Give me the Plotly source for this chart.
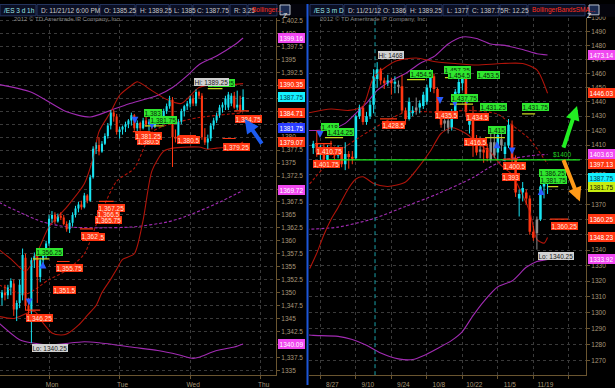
import math
import plotly.graph_objects as go

W, H = 615, 388
FONT = "Liberation Sans, Arial, sans-serif"

# ---------------- header texts ----------------
L_HEADER = ["/ES 3 d 1h", "D: 11/21/12 6:00 PM", "O: 1385.25", "H: 1389.25", "L: 1385",
            "C: 1387.75", "R: 3.25", "Bollinger..."]
R_HEADER = ["/ES 3 m D", "D: 11/21/12", "O: 1386", "H: 1389.25", "L: 1377",
            "C: 1387.75", "R: 12.25", "BollingerBandsSMA..."]
COPYRIGHT = "2012 \u00a9 TD Ameritrade IP Company, Inc."

# ---------------- LEFT PANEL: /ES 3 d 1h (hourly bars, bar index) ----------------
L_OPEN = [1349.0, 1350.0, 1349.5, 1351.0, 1351.75, 1346.75, 1348.0, 1349.5, 1356.75, 1347.5,
          1346.5, 1356.25, 1357.0, 1353.0, 1356.25, 1357.5, 1359.5, 1364.25, 1365.0, 1363.75,
          1364.75, 1364.5, 1363.25, 1362.25, 1363.5, 1365.0, 1366.25, 1367.0, 1366.5, 1368.75,
          1367.75, 1372.25, 1377.75, 1378.5, 1377.25, 1378.75, 1380.25, 1382.25, 1384.75, 1384.0,
          1381.0, 1381.5, 1382.0, 1382.5, 1383.25, 1384.25, 1381.75, 1382.75, 1381.75, 1383.25,
          1382.5, 1383.0, 1382.0, 1383.5, 1384.5, 1383.5, 1385.0, 1386.0, 1387.25, 1380.0,
          1379.75, 1383.0, 1385.0, 1386.0, 1386.5, 1387.5, 1386.5, 1388.75, 1388.0, 1380.0,
          1379.0, 1379.75, 1382.25, 1383.25, 1384.25, 1385.75, 1386.25, 1385.75, 1386.5, 1388.0,
          1385.75, 1386.25, 1385.25]
L_HIGH = [1350.5, 1351.5, 1351.5, 1352.75, 1352.5, 1348.5, 1352.5, 1358.5, 1357.5, 1349.0,
          1356.75, 1357.75, 1357.5, 1356.75, 1358.0, 1360.0, 1365.0, 1365.75, 1365.5, 1365.25,
          1365.5, 1365.0, 1363.75, 1364.0, 1365.5, 1366.75, 1367.5, 1367.75, 1369.25, 1369.0,
          1372.75, 1378.25, 1379.0, 1380.0, 1379.25, 1380.75, 1382.75, 1385.25, 1385.25, 1384.5,
          1382.0, 1382.25, 1383.0, 1383.5, 1384.75, 1384.5, 1383.25, 1383.0, 1383.75, 1384.0,
          1383.5, 1383.5, 1383.75, 1385.0, 1385.25, 1385.5, 1386.5, 1388.0, 1387.75, 1381.5,
          1383.5, 1385.5, 1386.25, 1387.0, 1388.0, 1388.25, 1389.25, 1389.0, 1388.5, 1381.75,
          1380.5, 1382.75, 1383.75, 1384.75, 1386.25, 1386.75, 1388.0, 1388.75, 1388.5, 1388.75,
          1389.0, 1388.0, 1389.25]
L_LOW = [1347.5, 1348.5, 1348.75, 1349.5, 1345.5, 1344.5, 1347.0, 1348.5, 1346.5, 1345.5,
         1340.25, 1354.75, 1348.0, 1352.0, 1355.5, 1356.5, 1359.0, 1363.5, 1363.25, 1363.5,
         1364.0, 1363.0, 1361.75, 1361.5, 1362.75, 1364.5, 1365.5, 1366.0, 1366.25, 1367.25,
         1367.5, 1372.0, 1376.75, 1376.5, 1377.0, 1378.5, 1379.75, 1381.5, 1383.0, 1380.5,
         1379.75, 1380.5, 1381.0, 1381.75, 1382.25, 1381.25, 1381.0, 1381.25, 1381.5, 1382.0,
         1381.25, 1381.5, 1381.75, 1382.75, 1383.0, 1383.25, 1384.5, 1385.5, 1374.25, 1379.0,
         1379.25, 1382.5, 1384.0, 1385.25, 1385.75, 1386.0, 1386.0, 1387.5, 1379.5, 1378.5,
         1377.75, 1379.25, 1381.5, 1382.75, 1383.75, 1384.75, 1385.25, 1385.25, 1386.0, 1385.5,
         1385.25, 1384.75, 1385.0]
L_CLOSE = [1350.0, 1349.5, 1351.0, 1352.25, 1346.75, 1348.0, 1351.5, 1357.25, 1347.5, 1346.5,
           1356.25, 1357.0, 1353.0, 1356.25, 1357.5, 1359.5, 1364.25, 1365.0, 1363.75, 1364.75,
           1364.5, 1363.25, 1362.25, 1363.5, 1365.0, 1366.25, 1367.0, 1366.5, 1368.75, 1367.75,
           1372.25, 1377.75, 1378.5, 1377.25, 1378.75, 1380.25, 1382.25, 1384.75, 1384.0, 1381.0,
           1381.5, 1382.0, 1382.5, 1383.25, 1384.25, 1381.75, 1382.75, 1381.75, 1383.25, 1382.5,
           1383.0, 1382.0, 1383.5, 1384.5, 1383.5, 1385.0, 1386.0, 1387.25, 1380.0, 1379.75,
           1383.0, 1385.0, 1386.0, 1386.5, 1387.5, 1386.5, 1388.75, 1388.0, 1380.0, 1379.0,
           1379.75, 1382.25, 1383.25, 1384.25, 1385.75, 1386.25, 1387.5, 1388.25, 1388.0, 1385.75,
           1386.25, 1385.25, 1387.75]
L_GRAY = []

L_XTICK_POS = [16, 40, 64, 88]
L_XTICK_TEXT = ["Mon", "Tue", "Wed", "Thu"]
L_YTICKS = [1335, 1337.5, 1340, 1342.5, 1345, 1347.5, 1350, 1352.5, 1355, 1357.5, 1360, 1362.5,
            1365, 1367.5, 1370, 1372.5, 1375, 1377.5, 1380, 1382.5, 1385, 1387.5, 1390, 1392.5,
            1395, 1397.5, 1400, 1402.5]

# Bollinger bands (bar index, price)
L_PUR_UP_X = [-1, 10, 22, 30, 37, 43, 53, 58, 63, 67, 73, 79, 82]
L_PUR_UP_Y = [1390.2, 1388.7, 1384.9, 1383.9, 1385.2, 1386.4, 1388.1, 1389.6, 1391.9, 1394.0,
              1395.7, 1397.8, 1399.16]
L_PUR_MID_X = [-1, 6, 14, 22, 33, 45, 56, 62, 73, 82]
L_PUR_MID_Y = [1367.4, 1365.5, 1363.6, 1362.7, 1362.5, 1362.7, 1363.6, 1364.6, 1367.2, 1369.72]
L_PUR_LO_X = [-1, 6, 10, 16, 28, 33, 45, 53, 60, 65, 67, 73, 79, 82]
L_PUR_LO_Y = [1344.1, 1340.9, 1340.3, 1339.9, 1340.5, 1340.3, 1339.4, 1338.8, 1338.0, 1337.3,
              1337.5, 1338.8, 1339.5, 1340.09]
L_RED_UP_X = [-1, 3, 8, 12, 16, 22, 28, 31, 33, 37, 40, 44, 46, 51, 56, 61, 67, 73, 79, 82]
L_RED_UP_Y = [1358.3, 1356.5, 1354.1, 1357.8, 1362.7, 1366.5, 1371.0, 1376.0, 1381.1, 1384.9,
              1388.1, 1390.0, 1390.7, 1389.0, 1387.3, 1386.5, 1389.6, 1390.2, 1390.2, 1390.35]
L_RED_MID_X = [-1, 8, 16, 22, 28, 33, 39, 45, 51, 57, 67, 82]
L_RED_MID_Y = [1351.5, 1349.7, 1352.5, 1354.3, 1357.5, 1364.5, 1371.5, 1374.0, 1381.0, 1382.5,
               1383.8, 1384.71]
L_RED_LO_X = [-1, 4, 11, 14, 17, 20, 22, 26, 29, 32, 34, 37, 39, 41, 45, 48, 51, 55, 58, 67,
              70, 73, 79, 82]
L_RED_LO_Y = [1345.4, 1345.0, 1346.4, 1344.1, 1342.2, 1341.8, 1342.0, 1343.7, 1345.6, 1347.5,
              1350.0, 1352.6, 1354.5, 1356.4, 1357.5, 1364.0, 1373.5, 1377.3, 1377.9, 1378.1,
              1377.7, 1377.9, 1378.2, 1379.07]

L_TAGS = [(1399.16, "mag"), (1390.35, "red"), (1387.75, "cyan"), (1384.71, "red"),
          (1381.75, "blue"), (1379.07, "red"), (1369.72, "mag"), (1340.09, "mag")]

L_BUBBLES = [
    ("1,389.25", 74.5, 1390.5, "green"),
    ("Hi: 1389.25", 71.4, 1390.65, "gray"),
    ("1,383", 51.4, 1384.6, "green"),
    ("1,381.75", 54.8, 1383.35, "green"),
    ("1,384.75", 84.0, 1383.6, "red"),
    ("1,380.5", 49.7, 1379.2, "red"),
    ("1,381.25", 49.7, 1380.2, "red"),
    ("1,380.5", 63.6, 1379.46, "red"),
    ("1,379.25", 79.9, 1378.2, "red"),
    ("1,365.75", 36.2, 1364.0, "red"),
    ("1,366.5", 36.2, 1365.15, "red"),
    ("1,367.25", 37.4, 1366.3, "red"),
    ("1,362.5", 31.0, 1360.7, "red"),
    ("1,362", 29.9, 1360.9, "red"),
    ("1,356.25", 16.0, 1357.85, "green"),
    ("1,355.75", 23.1, 1354.8, "red"),
    ("1,351.5", 21.4, 1350.45, "red"),
    ("1,346.25", 12.9, 1345.1, "red"),
    ("Lo: 1340.25", 16.3, 1339.27, "gray"),
]
L_LEVELS = [
    (1346.6, 8.2, 13.0, "red"), (1356.0, 18.7, 23.0, "red"), (1367.6, 33.0, 38.0, "red"),
    (1362.3, 26.5, 31.0, "red"), (1381.1, 44.5, 50.5, "red"), (1380.3, 60.0, 66.0, "red"),
    (1379.75, 75.0, 79.5, "red"), (1385.1, 79.0, 84.0, "red"),
    (1389.4, 70.0, 75.0, "lime"), (1382.2, 48.5, 55.0, "lime"), (1356.5, 10.5, 16.0, "lime"),
]
L_SIGNALS = [(9.2, 1347.5, "down"), (13.9, 1356.0, "up"), (45.2, 1382.6, "down"),
             (51.0, 1381.6, "down")]
L_ARROW = (82.6, 1383.5)   # head of the big blue arrow

# ---------------- RIGHT PANEL: /ES 3 m D (daily bars, trading-day index) ----------------
R_X0 = -5
R_OPEN = [1408, 1411, 1405, 1409, 1400, 1408, 1406, 1403, 1407, 1397,
          1404, 1402, 1401, 1430, 1436, 1426, 1430, 1438, 1456, 1463,
          1455, 1453, 1455, 1453, 1452, 1451, 1434, 1428, 1432, 1434,
          1436, 1437, 1440, 1450, 1458, 1449, 1431, 1425, 1427, 1422,
          1433, 1446, 1453, 1458, 1424, 1428, 1412, 1406, 1407, 1408,
          1400, 1412, 1405, 1410, 1404, 1410, 1424, 1401, 1374, 1378,
          1378, 1374, 1352, 1351, 1360, 1382, 1386]
R_HIGH = [1413, 1420, 1410, 1411, 1410, 1413, 1409, 1410, 1408, 1412,
          1406, 1406, 1431, 1438, 1437, 1433, 1441, 1463, 1468, 1464,
          1457, 1459, 1457, 1458, 1455, 1459, 1436, 1443, 1437, 1443,
          1441, 1447, 1452, 1463, 1460, 1450, 1434, 1432, 1431, 1435,
          1449, 1456, 1463, 1460, 1431, 1437, 1417, 1416, 1412, 1411,
          1420, 1418, 1420, 1418, 1412, 1428, 1427, 1403, 1380, 1385,
          1380, 1376, 1356, 1362, 1383, 1385, 1389.25]
R_LOW = [1404, 1402, 1397, 1398, 1396, 1403, 1400, 1401, 1395, 1393,
         1394, 1397, 1400, 1428, 1424, 1424, 1428, 1432, 1450, 1452,
         1449, 1451, 1445, 1446, 1446, 1432, 1424, 1427, 1430, 1431,
         1432, 1435, 1438, 1447, 1446, 1428, 1422, 1420, 1418, 1420,
         1431, 1443, 1448, 1430, 1418, 1402, 1403, 1401, 1398, 1399,
         1398, 1401, 1400, 1406, 1399, 1408, 1398, 1375, 1362, 1372,
         1370, 1350, 1346, 1340.25, 1359, 1374, 1377]
R_CLOSE = [1411, 1405, 1409, 1400, 1408, 1406, 1403, 1407, 1397, 1404,
           1402, 1401, 1430, 1436, 1426, 1430, 1438, 1458, 1463, 1455,
           1453, 1455, 1453, 1454, 1451, 1434, 1428, 1440, 1434, 1436,
           1439, 1445, 1450, 1459, 1449, 1431, 1424, 1427, 1422, 1433,
           1447, 1454, 1460, 1433, 1428, 1410, 1405, 1407, 1405, 1401,
           1412, 1403, 1417, 1414, 1409, 1424, 1401, 1378, 1377, 1381,
           1374, 1352, 1348, 1360, 1382, 1384, 1387.75]
R_GRAY = [19, 24, 32, 33, 42, 45, 46, 48, 58]

R_XTICK_POS = [-3, 7, 17, 27, 37, 47, 57, 67]
R_XTICK_TEXT = ["8/27", "9/10", "9/24", "10/8", "10/22", "11/5", "11/19", ""]
R_YTICKS = [1270, 1280, 1290, 1300, 1310, 1320, 1330, 1340, 1350, 1360, 1370, 1380, 1390, 1400,
            1410, 1420, 1430, 1440, 1450, 1460, 1470, 1480, 1490, 1500]

R_PUR_UP_X = [-7, 0, 4, 7, 10, 13, 17, 21, 25, 29, 33, 37, 41, 45, 49, 54, 58, 61]
R_PUR_UP_Y = [1420, 1421, 1425, 1432, 1439, 1448, 1455, 1460, 1467, 1472, 1481, 1486, 1485, 1481,
              1480, 1477, 1474, 1473.14]
R_PUR_MID_X = [-7, 2, 12, 21, 30, 40, 44, 49, 54, 58, 61]
R_PUR_MID_Y = [1353.5, 1355, 1360.6, 1368.7, 1377, 1388, 1394, 1400, 1402, 1403.3, 1403.63]
R_PUR_LO_X = [-7, -5, 2, 6, 10, 14, 19, 23, 26, 30, 34, 37, 40, 43, 47, 51, 55, 58, 61]
R_PUR_LO_Y = [1286, 1285.6, 1285, 1283, 1279.4, 1274.6, 1271, 1270.6, 1273, 1277.5, 1282.5,
              1288, 1298, 1306.9, 1316.3, 1320, 1328.8, 1332.5, 1333.92]
R_RED_UP_X = [-7, 0, 5, 9, 12, 18, 24, 29, 35, 41, 48, 54, 58, 61]
R_RED_UP_Y = [1432, 1435, 1434, 1437, 1457, 1468.5, 1471, 1468.5, 1467, 1466, 1467, 1467, 1462.5,
              1446.03]
R_RED_MID_X = [-7, 2, 11, 21, 31, 39, 47, 51, 56, 61]
R_RED_MID_Y = [1381, 1405, 1420, 1432.7, 1432.7, 1434, 1431.4, 1423.8, 1414, 1397.13]
R_RED_LO_X = [-6, -4, -2, 0, 2, 5, 7, 9, 12, 16, 21, 24, 28, 31, 34, 38, 42, 45, 48, 51, 53, 56,
              58, 60, 61]
R_RED_LO_Y = [1328, 1338, 1350, 1360, 1368, 1381, 1387, 1388.5, 1384, 1382, 1385, 1393, 1406,
              1418, 1422, 1418, 1410, 1405, 1396, 1390, 1381, 1365, 1347, 1344.5, 1348.23]

R_TAGS = [(1473.14, "mag"), (1446.03, "red"), (1403.63, "mag"), (1397.13, "red"),
          (1387.75, "cyan"), (1381.75, "lime"), (1360.25, "red"), (1348.23, "red"),
          (1333.92, "mag")]

R_BUBBLES = [
    ("Hi: 1468", 16.9, 1473.4, "gray"),
    ("1,454.5", 25.4, 1459.4, "green"),
    ("1,457.25", 35.5, 1462.6, "green"),
    ("1,454.5", 36.3, 1459.1, "green"),
    ("1,453.5", 44.5, 1458.7, "green"),
    ("1,437.75", 37.7, 1442.5, "green"),
    ("1,431.25", 45.9, 1436.3, "green"),
    ("1,431.75", 57.7, 1436.3, "green"),
    ("1,435.5", 32.4, 1430.5, "red"),
    ("1,434.5", 41.4, 1429.5, "red"),
    ("1,428.5", 17.5, 1424.0, "red"),
    ("1,418", -0.3, 1422.7, "green"),
    ("1,414.25", 2.8, 1419.3, "green"),
    ("1,410.75", -0.3, 1406.2, "red"),
    ("1,401.75", -1.3, 1397.5, "red"),
    ("1,415", 46.8, 1420.3, "green"),
    ("1,416.5", 40.6, 1412.2, "red"),
    ("1,400.5", 51.8, 1395.8, "red"),
    ("1,393", 50.7, 1388.5, "red"),
    ("1,386.25", 62.3, 1391.1, "green"),
    ("1,381.75", 62.8, 1386.5, "green"),
    ("1,360.25", 65.9, 1355.5, "red"),
    ("1,340.25", 64.6, 1336.2, "red"),
    ("Lo: 1340.25", 63.4, 1336.2, "gray"),
]
R_LEVELS = [
    (1455.6, 21.4, 26.5, "lime"), (1457.0, 32.1, 33.0, "lime"), (1438.4, 33.5, 40.0, "lime"),
    (1415.2, -1.7, 3.4, "lime"), (1415.2, 43.4, 49.0, "lime"), (1381.9, 61.1, 64.0, "lime"),
    (1431.6, 53.8, 57.5, "lime"),
    (1411.0, -4.5, 0.3, "red"), (1428.1, 13.8, 18.6, "red"), (1400.5, 48.5, 52.7, "red"),
    (1360.3, 61.7, 66.8, "red"),
]
R_SIGNALS = [(-3.1, 1414.9, "down"), (30.7, 1438.4, "down"), (34.9, 1436.3, "down"),
             (38.3, 1438.4, "down"), (46.8, 1412.7, "up"), (51.0, 1403.6, "down"),
             (59.2, 1380.9, "up")]
R_LINE_1400 = (1400, -0.9, 70.1)
R_EVENT_IDX = 12.4
R_UP_ARROW = (69.3, 1437.0)
R_DOWN_ARROW = (70.1, 1372.0)

# ---------------- styles ----------------
UP, DN, GR = "#18e4f2", "#ff3612", "#8e8e8e"
PURPLE, DKRED = "#a12bb2", "#b0140a"
GRID, AXC, TXT = "#3a3a3a", "#6a5530", "#a8987a"
BUB = {"green": ("#2fe62f", "#082808"), "red": ("#ff3612", "#ffe6dc"),
       "gray": ("#d2d2d2", "#1a1a1a")}
TAG = {"mag": ("#f048f0", "#ffffff"), "red": ("#ff3612", "#ffffff"), "cyan": ("#14f0ff", "#003848"),
       "blue": ("#2a3cff", "#ffffff"), "lime": ("#c6ec10", "#1a2000")}
LVL = {"red": "#ff3612", "lime": "#c8d820"}

# right axis log mapping: top 1500 at px 14, bottom px 378
R_LOG_TOP = math.log10(1500)
R_LOG_BOT = R_LOG_TOP - 364 / 4829.0
L_YR = [1334.05, 1403.07]

fig = go.Figure()


def add_candles(xs, o, h, l, c, gray, xa, ya, width, minbody):
    cols, base, hgt = [], [], []
    for k in range(len(xs)):
        if xs[k] in gray:
            col = GR
        elif c[k] >= o[k]:
            col = UP
        else:
            col = DN
        cols.append(col)
        lo, hi = min(o[k], c[k]), max(o[k], c[k])
        if hi - lo < minbody:
            mid = (hi + lo) / 2
            lo, hi = mid - minbody / 2, mid + minbody / 2
        base.append(lo)
        hgt.append(hi - lo)
    for col in (UP, DN, GR):
        wx, wy = [], []
        for k in range(len(xs)):
            if cols[k] == col:
                wx += [xs[k], xs[k], None]
                wy += [l[k], h[k], None]
        if wx:
            fig.add_trace(go.Scatter(x=wx, y=wy, mode="lines", line=dict(color=col, width=1),
                                     xaxis=xa, yaxis=ya, hoverinfo="skip"))
    fig.add_trace(go.Bar(x=xs, y=hgt, base=base, width=width,
                         marker=dict(color=cols, line=dict(width=0)),
                         xaxis=xa, yaxis=ya, hoverinfo="skip"))


def band(xs, ys, color, xa, ya, dash=None, width=1.1):
    fig.add_trace(go.Scatter(x=xs, y=ys, mode="lines",
                             line=dict(color=color, width=width, dash=dash, shape="spline",
                                       smoothing=0.7),
                             xaxis=xa, yaxis=ya, hoverinfo="skip"))


# ---- left panel ----
LX = list(range(len(L_OPEN)))
band(L_PUR_UP_X, L_PUR_UP_Y, PURPLE, "x", "y")
band(L_PUR_MID_X, L_PUR_MID_Y, PURPLE, "x", "y", dash="3px,2px")
band(L_PUR_LO_X, L_PUR_LO_Y, PURPLE, "x", "y")
band(L_RED_UP_X, L_RED_UP_Y, DKRED, "x", "y")
band(L_RED_MID_X, L_RED_MID_Y, DKRED, "x", "y", dash="3px,2px")
band(L_RED_LO_X, L_RED_LO_Y, DKRED, "x", "y")
add_candles(LX, L_OPEN, L_HIGH, L_LOW, L_CLOSE, L_GRAY, "x", "y", 0.7, 0.15)

# ---- right panel ----
RX = [R_X0 + k for k in range(len(R_OPEN))]
band(R_PUR_UP_X, R_PUR_UP_Y, PURPLE, "x2", "y2")
band(R_PUR_MID_X, R_PUR_MID_Y, PURPLE, "x2", "y2", dash="3px,2px")
band(R_PUR_LO_X, R_PUR_LO_Y, PURPLE, "x2", "y2")
band(R_RED_UP_X, R_RED_UP_Y, DKRED, "x2", "y2")
band(R_RED_MID_X, R_RED_MID_Y, DKRED, "x2", "y2", dash="3px,2px")
band(R_RED_LO_X, R_RED_LO_Y, DKRED, "x2", "y2")
fig.add_trace(go.Scatter(x=[R_EVENT_IDX, R_EVENT_IDX], y=[10 ** R_LOG_BOT, 10 ** R_LOG_TOP],
                         mode="lines", line=dict(color="#1aa0a8", width=1, dash="4px,3px"),
                         xaxis="x2", yaxis="y2", hoverinfo="skip"))
add_candles(RX, R_OPEN, R_HIGH, R_LOW, R_CLOSE, R_GRAY, "x2", "y2", 0.72, 0.6)
fig.add_trace(go.Scatter(x=[R_LINE_1400[1], R_LINE_1400[2]], y=[R_LINE_1400[0]] * 2, mode="lines",
                         line=dict(color="#22ee22", width=1.3), xaxis="x2", yaxis="y2",
                         hoverinfo="skip"))


def levels(lst, xa, ya):
    for p, a, b, kind in lst:
        fig.add_trace(go.Scatter(x=[a, b], y=[p, p], mode="lines",
                                 line=dict(color=LVL[kind], width=1.2),
                                 xaxis=xa, yaxis=ya, hoverinfo="skip"))


def signals(lst, xa, ya):
    for direction in ("up", "down"):
        xs = [s[0] for s in lst if s[2] == direction]
        ys = [s[1] for s in lst if s[2] == direction]
        if xs:
            fig.add_trace(go.Scatter(x=xs, y=ys, mode="markers",
                                     marker=dict(symbol="arrow-" + direction, size=7,
                                                 color="#2a5cff", line=dict(width=0)),
                                     xaxis=xa, yaxis=ya, hoverinfo="skip"))


levels(L_LEVELS, "x", "y")
levels(R_LEVELS, "x2", "y2")
signals(L_SIGNALS, "x", "y")
signals(R_SIGNALS, "x2", "y2")

ann = []
for txt, x, p, kind in L_BUBBLES:
    bg, fg = BUB[kind]
    ann.append(dict(x=x, y=p, xref="x", yref="y", text=txt, showarrow=False, bgcolor=bg,
                    bordercolor=bg, borderwidth=0, borderpad=0.5,
                    font=dict(size=6.5, color=fg, family=FONT)))
for txt, x, p, kind in R_BUBBLES:
    bg, fg = BUB[kind]
    ann.append(dict(x=x, y=math.log10(p), xref="x2", yref="y2", text=txt, showarrow=False,
                    bgcolor=bg, bordercolor=bg, borderwidth=0, borderpad=0.5,
                    font=dict(size=6.5, color=fg, family=FONT)))
ann.append(dict(x=65.1, y=math.log10(1403.5), xref="x2", yref="y2", text="$1400",
                showarrow=False, font=dict(size=6.5, color="#22cc22", family=FONT)))
for p, kind in L_TAGS:
    bg, fg = TAG[kind]
    ann.append(dict(x=277.5 / W, y=p, xref="paper", yref="y", text="%.2f" % p, showarrow=False,
                    xanchor="left", bgcolor=bg, bordercolor=bg, borderpad=0.5, width=24,
                    font=dict(size=6.5, color=fg, family=FONT)))
for p, kind in R_TAGS:
    bg, fg = TAG[kind]
    ann.append(dict(x=588 / W, y=math.log10(p), xref="paper", yref="y2", text="%.2f" % p,
                    showarrow=False, xanchor="left", bgcolor=bg, bordercolor=bg, borderpad=0.5,
                    width=24, font=dict(size=6.5, color=fg, family=FONT)))
# big hand-drawn arrows
ann.append(dict(x=L_ARROW[0], y=L_ARROW[1], xref="x", yref="y", text="", showarrow=True,
                ax=18, ay=26, arrowhead=2, arrowsize=0.7, arrowwidth=4, arrowcolor="#1d5cf0"))
ann.append(dict(x=R_UP_ARROW[0], y=math.log10(R_UP_ARROW[1]), xref="x2", yref="y2", text="",
                showarrow=True, ax=-14, ay=43, arrowhead=2, arrowsize=0.7, arrowwidth=4,
                arrowcolor="#22ee22"))
ann.append(dict(x=R_DOWN_ARROW[0], y=math.log10(R_DOWN_ARROW[1]), xref="x2", yref="y2", text="",
                showarrow=True, ax=-17, ay=-43, arrowhead=2, arrowsize=0.7, arrowwidth=4,
                arrowcolor="#ff9a18"))

# ---- header bars ----
shapes = []


def prect(x0, y0, x1, y1, fill, line, lw=1):
    shapes.append(dict(type="rect", xref="paper", yref="paper", x0=x0 / W, x1=x1 / W,
                       y0=1 - y1 / H, y1=1 - y0 / H, fillcolor=fill,
                       line=dict(color=line, width=lw), layer="above"))


prect(0, 0, W, 13, "#04040c", "#04040c", 0)
L_BOX = [(0, 36), (37, 99), (100, 135), (136, 169), (170, 192), (193, 229), (230, 247), (248, 277)]
R_BOX = [(310, 343), (344, 378), (379, 405), (406, 442), (443, 467), (468, 499), (500, 527),
         (528, 585)]
for boxes, texts in ((L_BOX, L_HEADER), (R_BOX, R_HEADER)):
    for k, ((a, b), t) in enumerate(zip(boxes, texts)):
        prect(a, 0.5, b, 12, "#0b0f24", "#24345e", 1)
        col = "#9fe8e8" if k == 0 else ("#ff3020" if k == len(texts) - 1 else "#c8c8c8")
        ann.append(dict(x=(a + 2) / W, y=1 - 6.5 / H, xref="paper", yref="paper", text=t,
                        showarrow=False, xanchor="left", yanchor="middle",
                        font=dict(size=6.5, color=col, family=FONT)))
for a in (280, 589):
    prect(a, 1, a + 10, 11, "#1a2a50", "#b8c0cc", 1)
    ann.append(dict(x=(a + 5) / W, y=1 - 6 / H, xref="paper", yref="paper", text="Z",
                    showarrow=False, font=dict(size=7, color="#e0e0e0", family=FONT)))
for a in (12, 318):
    ann.append(dict(x=a / W, y=1 - 15.5 / H, xref="paper", yref="paper", text=COPYRIGHT,
                    showarrow=False, xanchor="left", yanchor="middle",
                    font=dict(size=6, color="#8a8a8a", family=FONT)))
shapes.append(dict(type="line", xref="paper", yref="paper", x0=307.5 / W, x1=307.5 / W,
                   y0=0, y1=1, line=dict(color="#1d56d8", width=2), layer="above"))

axis_common = dict(showgrid=True, gridcolor=GRID, griddash="dot", gridwidth=1, zeroline=False,
                   showline=True, linecolor=AXC, linewidth=1, ticks="outside", ticklen=3,
                   tickcolor=AXC, tickfont=dict(size=6.5, color=TXT, family=FONT),
                   fixedrange=True)
ydom = [10 / H, 374 / H]
fig.update_layout(
    width=W, height=H, margin=dict(l=0, r=0, t=0, b=0, pad=0),
    paper_bgcolor="#000000", plot_bgcolor="#000000", showlegend=False,
    barmode="overlay", font=dict(family=FONT, size=7, color=TXT),
    xaxis=dict(domain=[0, 276 / W], range=[-0.68, 93.2], anchor="y",
               tickvals=L_XTICK_POS, ticktext=L_XTICK_TEXT, ticklabelshift=3, **axis_common),
    yaxis=dict(domain=ydom, range=L_YR, anchor="x", side="right", tickvals=L_YTICKS,
               **axis_common),
    xaxis2=dict(domain=[309 / W, 586 / W], range=[-6.2, 71.83], anchor="y2",
                tickvals=R_XTICK_POS, ticktext=R_XTICK_TEXT, ticklabelshift=12, **axis_common),
    yaxis2=dict(domain=ydom, type="log", range=[R_LOG_BOT, R_LOG_TOP], anchor="x2", side="right",
                tickvals=R_YTICKS, ticktext=[str(v) for v in R_YTICKS], **axis_common),
    annotations=ann, shapes=shapes,
)
fig.write_html("out.html", config={"displayModeBar": False})
